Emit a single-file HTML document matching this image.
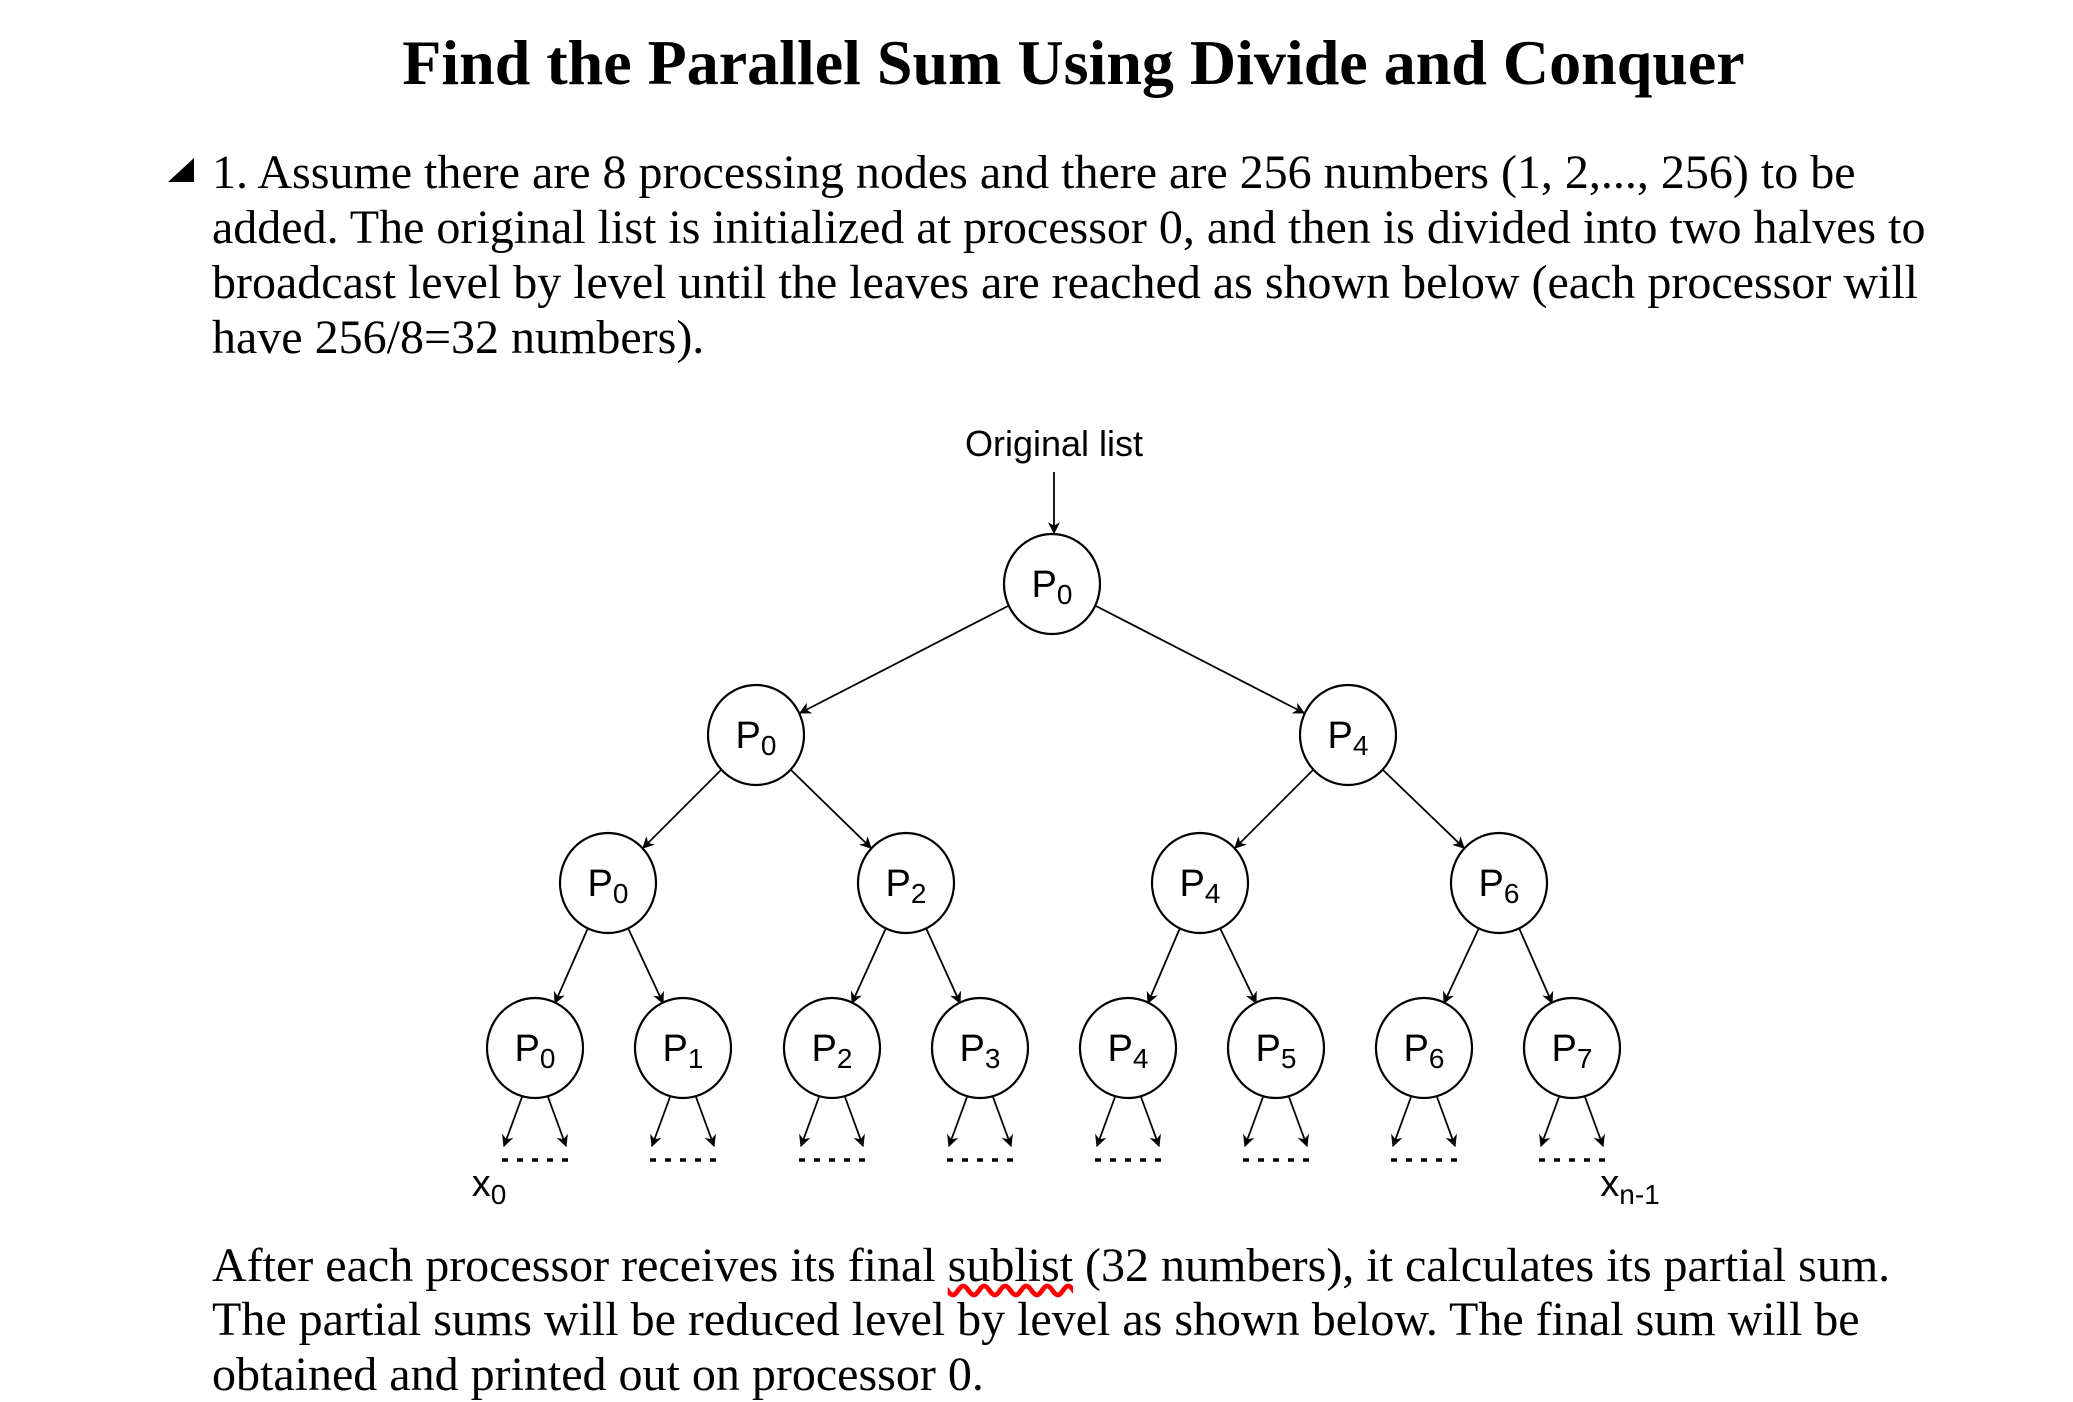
<!DOCTYPE html>
<html><head><meta charset="utf-8"><style>
body{margin:0;width:2073px;height:1398px;background:#fff;position:relative;overflow:hidden;font-family:"Liberation Serif",serif;color:#000}
.t{position:absolute;white-space:nowrap}
.title{left:0;width:2147px;text-align:center;top:26px;font-size:64px;font-weight:bold}
.b{font-size:48px;left:212px}
</style></head><body>
<div class="t title">Find the Parallel Sum Using Divide and Conquer</div>
<div class="t" style="left:168px;top:158px;width:0;height:0;border-left:26px solid transparent;border-bottom:24px solid #000"></div>
<div class="t b" style="top:145px">1. Assume there are 8 processing nodes and there are 256 numbers (1, 2,..., 256) to be</div>
<div class="t b" style="top:200px">added. The original list is initialized at processor 0, and then is divided into two halves to</div>
<div class="t b" style="top:255px">broadcast level by level until the leaves are reached as shown below (each processor will</div>
<div class="t b" style="top:310px">have 256/8=32 numbers).</div>
<div class="t b" style="top:1238px">After each processor receives its final <span style="text-decoration:underline wavy red">sublist</span> (32 numbers), it calculates its partial sum.</div>
<div class="t b" style="top:1292px">The partial sums will be reduced level by level as shown below. The final sum will be</div>
<div class="t b" style="top:1347px">obtained and printed out on processor 0.</div>
<svg width="2073" height="1398" style="position:absolute;left:0;top:0" font-family="Liberation Sans, sans-serif">
<defs><marker id="a" viewBox="0 0 10 10" refX="9" refY="5" markerWidth="16" markerHeight="12" orient="auto" markerUnits="userSpaceOnUse"><path d="M0,0 L10,5 L0,10 L3,5 z" fill="#000"/></marker></defs>
<text x="1054" y="456" font-size="36" text-anchor="middle">Original list</text>
<g stroke="#000" stroke-width="1.8" marker-end="url(#a)" fill="none">
<line x1="1054" y1="472" x2="1054" y2="533"/>
<line x1="1008" y1="606" x2="800" y2="713"/><line x1="1096" y1="606" x2="1304" y2="713"/>
<line x1="721" y1="770" x2="643" y2="848"/><line x1="791" y1="770" x2="871" y2="848"/>
<line x1="1313" y1="770" x2="1235" y2="848"/><line x1="1383" y1="770" x2="1464" y2="848"/>
<line x1="588" y1="928" x2="555" y2="1003"/><line x1="628" y1="928" x2="663" y2="1003"/>
<line x1="886" y1="928" x2="852" y2="1003"/><line x1="926" y1="928" x2="960" y2="1003"/>
<line x1="1180" y1="928" x2="1148" y2="1003"/><line x1="1220" y1="928" x2="1256" y2="1003"/>
<line x1="1479" y1="928" x2="1444" y2="1003"/><line x1="1519" y1="928" x2="1552" y2="1003"/>
</g>
<g stroke="#000" stroke-width="1.8" fill="none">
<g marker-end="url(#a)">
<line x1="522" y1="1097" x2="504" y2="1146"/><line x1="548" y1="1097" x2="566" y2="1146"/>
<line x1="670" y1="1097" x2="652" y2="1146"/><line x1="696" y1="1097" x2="714" y2="1146"/>
<line x1="819" y1="1097" x2="801" y2="1146"/><line x1="845" y1="1097" x2="863" y2="1146"/>
<line x1="967" y1="1097" x2="949" y2="1146"/><line x1="993" y1="1097" x2="1011" y2="1146"/>
<line x1="1115" y1="1097" x2="1097" y2="1146"/><line x1="1141" y1="1097" x2="1159" y2="1146"/>
<line x1="1263" y1="1097" x2="1245" y2="1146"/><line x1="1289" y1="1097" x2="1307" y2="1146"/>
<line x1="1411" y1="1097" x2="1393" y2="1146"/><line x1="1437" y1="1097" x2="1455" y2="1146"/>
<line x1="1559" y1="1097" x2="1541" y2="1146"/><line x1="1585" y1="1097" x2="1603" y2="1146"/>
</g>
<g stroke-width="3.5" stroke-dasharray="6,9">
<line x1="502" y1="1160" x2="570" y2="1160"/><line x1="650" y1="1160" x2="718" y2="1160"/>
<line x1="799" y1="1160" x2="867" y2="1160"/><line x1="947" y1="1160" x2="1015" y2="1160"/>
<line x1="1095" y1="1160" x2="1163" y2="1160"/><line x1="1243" y1="1160" x2="1311" y2="1160"/>
<line x1="1391" y1="1160" x2="1459" y2="1160"/><line x1="1539" y1="1160" x2="1607" y2="1160"/>
</g></g>
<g stroke="#000" stroke-width="2.2" fill="#fff">
<ellipse cx="1052" cy="584" rx="48" ry="50"/>
<ellipse cx="756" cy="735" rx="48" ry="50"/><ellipse cx="1348" cy="735" rx="48" ry="50"/>
<ellipse cx="608" cy="883" rx="48" ry="50"/><ellipse cx="906" cy="883" rx="48" ry="50"/>
<ellipse cx="1200" cy="883" rx="48" ry="50"/><ellipse cx="1499" cy="883" rx="48" ry="50"/>
<ellipse cx="535" cy="1048" rx="48" ry="50"/><ellipse cx="683" cy="1048" rx="48" ry="50"/>
<ellipse cx="832" cy="1048" rx="48" ry="50"/><ellipse cx="980" cy="1048" rx="48" ry="50"/>
<ellipse cx="1128" cy="1048" rx="48" ry="50"/><ellipse cx="1276" cy="1048" rx="48" ry="50"/>
<ellipse cx="1424" cy="1048" rx="48" ry="50"/><ellipse cx="1572" cy="1048" rx="48" ry="50"/>
</g>
<g font-size="38" text-anchor="middle">
<text x="1052" y="597">P<tspan font-size="28" dy="7">0</tspan></text>
<text x="756" y="748">P<tspan font-size="28" dy="7">0</tspan></text>
<text x="1348" y="748">P<tspan font-size="28" dy="7">4</tspan></text>
<text x="608" y="896">P<tspan font-size="28" dy="7">0</tspan></text>
<text x="906" y="896">P<tspan font-size="28" dy="7">2</tspan></text>
<text x="1200" y="896">P<tspan font-size="28" dy="7">4</tspan></text>
<text x="1499" y="896">P<tspan font-size="28" dy="7">6</tspan></text>
<text x="535" y="1061">P<tspan font-size="28" dy="7">0</tspan></text>
<text x="683" y="1061">P<tspan font-size="28" dy="7">1</tspan></text>
<text x="832" y="1061">P<tspan font-size="28" dy="7">2</tspan></text>
<text x="980" y="1061">P<tspan font-size="28" dy="7">3</tspan></text>
<text x="1128" y="1061">P<tspan font-size="28" dy="7">4</tspan></text>
<text x="1276" y="1061">P<tspan font-size="28" dy="7">5</tspan></text>
<text x="1424" y="1061">P<tspan font-size="28" dy="7">6</tspan></text>
<text x="1572" y="1061">P<tspan font-size="28" dy="7">7</tspan></text>
<text x="489" y="1196">x<tspan font-size="28" dy="8">0</tspan></text>
<text x="1630" y="1196">x<tspan font-size="28" dy="8">n-1</tspan></text>
</g>
</svg>
</body></html>
